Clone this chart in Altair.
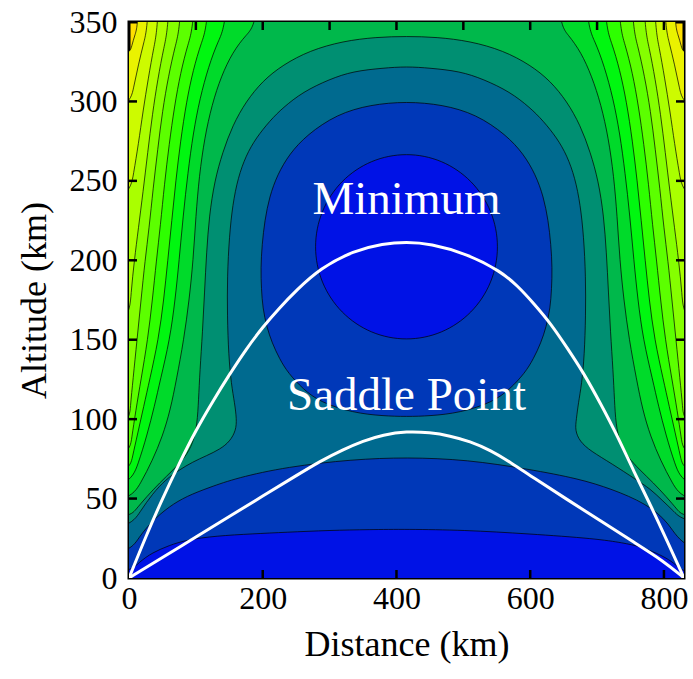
import altair as alt
import pandas as pd

X_MAX = 830
Y_MAX = 350
W, H = 555, 556

# Fill colour of each band, lowest band (B1) first
BAND_COLORS = [
    "#0012e6", "#0038b8", "#006a8f", "#008f72", "#00b84b", "#00da2a", "#00f710",
    "#2eff00", "#5cff00", "#85ff00", "#aaff00", "#cdfb00", "#eaf200", "#ffdf00",
]

# Contour lines, in km.  Side branches run from the top down to the plot edge.
L13_LEFT = [(15, 350), (9, 342), (4, 335), (0, 328)]
L13_RIGHT = [(815, 350), (821, 342), (826, 335), (830, 328)]
L12_LEFT = [(30, 350), (22, 337), (14, 323), (7, 309), (0, 295)]
L12_RIGHT = [(800, 350), (808, 337), (816, 323), (823, 309), (830, 295)]
L11_LEFT = [(45, 350), (37, 334), (29, 315), (21, 294), (14, 273), (7, 255), (0, 238)]
L11_RIGHT = [(785, 350), (793, 334), (801, 315), (809, 294), (816, 273), (823, 255), (830, 238)]
L10_LEFT = [(61, 350), (52, 334), (43, 314), (35, 292), (28, 268), (21, 243), (14, 220),
            (8, 200), (3, 180), (0, 158)]
L10_RIGHT = [(769, 350), (778, 334), (787, 314), (795, 292), (802, 268), (809, 243), (816, 220),
             (822, 200), (827, 180), (830, 158)]
L9_LEFT = [(79, 350), (69, 335), (59, 316), (50, 294), (43, 270), (36, 245), (30, 220),
           (24, 200), (18, 175), (12, 150), (6, 125), (2, 108), (0, 95)]
L9_RIGHT = [(751, 350), (761, 335), (771, 316), (780, 294), (787, 270), (794, 245), (800, 220),
            (806, 200), (812, 175), (818, 150), (824, 125), (828, 108), (830, 95)]
L8_LEFT = [(99, 350), (88, 336), (77, 318), (68, 297), (60, 273), (53, 248), (47, 222),
           (41, 200), (35, 175), (28, 150), (18, 125), (10, 105), (4, 88), (0, 76)]
L8_RIGHT = [(731, 350), (742, 336), (753, 318), (762, 297), (770, 273), (777, 248), (783, 222),
            (789, 200), (795, 175), (802, 150), (812, 125), (820, 105), (826, 88), (830, 76)]
L7_LEFT = [(120, 350), (108, 337), (96, 320), (86, 300), (77, 275), (70, 250), (64, 225),
           (58, 200), (52, 175), (44, 150), (31, 125), (22, 108), (13, 91), (5, 76), (0, 66)]
L7_RIGHT = [(710, 350), (722, 337), (734, 320), (744, 300), (753, 275), (760, 250), (766, 225),
            (772, 200), (778, 175), (786, 150), (799, 125), (808, 108), (817, 91), (825, 76), (830, 66)]
L6_LEFT = [(148, 350), (133, 338), (119, 322), (106, 302), (96, 280), (88, 255), (81, 228),
           (75, 200), (69, 175), (61, 150), (47, 125), (38, 108), (27, 90), (14, 72), (0, 57)]
L6_RIGHT = [(682, 350), (697, 338), (711, 322), (724, 302), (734, 280), (742, 255), (749, 228),
            (755, 200), (761, 175), (769, 150), (783, 125), (792, 108), (803, 90), (816, 72), (830, 57)]
L5_LEFT = [(195, 350), (175, 342), (155, 331), (138, 316), (124, 298), (113, 277), (105, 253),
           (100, 228), (96, 200), (90, 175), (82, 150), (71, 125), (62, 106), (50, 89), (35, 74),
           (18, 60), (0, 48)]
L5_RIGHT = [(640, 350), (657, 342), (676, 331), (692, 316), (706, 298), (717, 277), (725, 253),
            (730, 228), (734, 200), (740, 175), (748, 150), (759, 125), (768, 106), (780, 89),
            (795, 74), (812, 60), (830, 48)]
# These two arch over the top centre: left branch starts at the centre line
L4_LEFT = [(415, 341), (370, 340.5), (320, 338), (270, 332), (230, 323), (200, 313), (175, 300),
           (155, 285), (140, 268), (128, 250), (120, 228), (116, 205), (113, 180), (110, 155),
           (106, 130), (104, 112), (102, 97), (96, 85), (84, 76), (66, 68), (46, 60), (26, 51),
           (10, 43), (0, 38)]
L4_RIGHT = [(460, 340.5), (510, 338), (560, 332), (600, 323), (630, 313), (655, 300), (675, 285),
            (690, 268), (702, 250), (710, 228), (714, 205), (717, 180), (720, 155), (724, 130),
            (726, 112), (728, 97), (734, 85), (746, 76), (764, 68), (784, 60), (804, 51),
            (820, 43), (830, 38)]
L3_LEFT = [(415, 322), (380, 321), (335, 319), (300, 314), (260, 306), (230, 296), (211, 288),
           (190, 277), (175, 266), (163, 252), (155, 235), (150, 215), (147, 190), (147, 165),
           (149, 140), (153, 122), (158, 110), (161, 100), (160, 93), (151, 86), (136, 81),
           (116, 77), (95, 73), (75, 68), (55, 62), (35, 53), (17, 42), (0, 31)]
L3_RIGHT = [(450, 321), (495, 319), (530, 314), (570, 306), (600, 296), (619, 288), (640, 277),
            (655, 266), (667, 252), (675, 235), (680, 215), (683, 190), (683, 165), (681, 140),
            (677, 122), (672, 110), (669, 100), (667, 93), (674, 86), (690, 80), (722, 72),
            (758, 62), (780, 56), (797, 49), (815, 42), (830, 35)]
# Ground-level contours, left edge to right edge
L2_FLOOR = [(0, 15), (15, 26), (35, 36), (60, 45), (86, 51.5), (120, 57), (161, 63), (236, 70),
            (335, 74.7), (415, 76), (506, 74.5), (598, 68.5), (673, 62.5), (722, 56), (773, 47),
            (808, 35), (830, 17)]
L1_FLOOR = [(0, 3), (15, 10), (35, 16), (60, 20.5), (86, 24), (130, 26.5), (185, 27.8),
            (235, 28.8), (300, 30), (360, 30.5), (415, 30.7), (500, 30.2), (598, 27.8),
            (698, 24.8), (740, 22), (763, 20), (790, 15.5), (808, 11.5), (820, 7.5), (830, 3)]
# Closed loops around the minimum
L2_LOOP = [(415, 300), (361, 298), (311, 292), (266, 279), (240, 267), (222, 254), (210, 240),
           (203, 225), (199, 210), (197, 195), (198, 182), (200, 170), (206, 158), (214, 148),
           (225, 138), (238, 129), (260, 119), (286, 110.6), (335, 104), (380, 102),
           (415, 101.6), (450, 102), (495, 104), (544, 110.6), (570, 119), (592, 129),
           (605, 138), (616, 148), (624, 158), (630, 170), (632, 182), (633, 195), (631, 210),
           (627, 225), (620, 240), (608, 254), (590, 267), (564, 279), (519, 292), (469, 298)]
L1_LOOP = [(554.5, 208.5), (543.9, 231.3), (513.6, 250.6), (468.4, 263.5), (415, 268),
           (361.6, 263.5), (316.4, 250.6), (286.1, 231.3), (275.5, 208.5), (286.1, 185.7),
           (316.4, 166.4), (361.6, 153.5), (415, 149), (468.4, 153.5), (513.6, 166.4),
           (543.9, 185.7)]

# Trajectories
UPPER_PATH = [(0, 0), (25, 26), (50, 50), (75, 72), (100, 93), (125, 111), (150, 128),
              (175, 144), (200, 158), (225, 170), (250, 181), (286, 195), (336, 206),
              (380, 210.5), (415, 211.5), (450, 210.5), (506, 204), (556, 193), (581, 184),
              (605, 173), (631, 160), (655, 145), (680, 129), (705, 110), (731, 89), (755, 67),
              (781, 45), (805, 23), (830, 0)]
LOWER_PATH = [(0, 0), (50, 12.9), (100, 25.8), (150, 38.7), (200, 51.6), (250, 64.4),
              (286, 73.6), (320, 80.8), (350, 86.3), (380, 90.2), (415, 92.3), (450, 91.6),
              (480, 89.5), (510, 86), (540, 80.5), (570, 73), (605, 63), (655, 49.5),
              (705, 36), (755, 22.5), (800, 10.5), (830, 0)]

LABELS = ["Minimum", "Saddle Point"]
LABEL_X = [415, 415]
LABEL_Y = [229, 105.6]

X_LABELS = [0, 200, 400, 600, 800]
Y_LABELS = [0, 50, 100, 150, 200, 250, 300, 350]
TOP_TICKS = [100, 200, 300, 400, 500, 600, 700, 800]
BOTTOM_TICKS = [200, 400, 600, 800]
SIDE_TICKS = [50, 100, 150, 200, 250, 300]

OUT = 80  # extent beyond the frame used to close the filled regions


def corner_region(left, right):
    """Region below a pair of contour branches that end on the top and side edges."""
    pts = list(left)
    pts += [(-OUT, left[-1][1]), (-OUT, -OUT), (X_MAX + OUT, -OUT), (X_MAX + OUT, right[-1][1])]
    pts += list(reversed(right))
    pts += [(right[0][0], Y_MAX + OUT), (left[0][0], Y_MAX + OUT)]
    return pts


def arch_region(left, right):
    pts = list(reversed(left)) + list(right)
    pts += [(X_MAX + OUT, right[-1][1]), (X_MAX + OUT, -OUT), (-OUT, -OUT), (-OUT, left[-1][1])]
    return pts


def floor_region(line):
    return list(line) + [(X_MAX + OUT, line[-1][1]), (X_MAX + OUT, -OUT), (-OUT, -OUT),
                         (-OUT, line[0][1])]


regions = [
    (corner_region(L13_LEFT, L13_RIGHT), 13),
    (corner_region(L12_LEFT, L12_RIGHT), 12),
    (corner_region(L11_LEFT, L11_RIGHT), 11),
    (corner_region(L10_LEFT, L10_RIGHT), 10),
    (corner_region(L9_LEFT, L9_RIGHT), 9),
    (corner_region(L8_LEFT, L8_RIGHT), 8),
    (corner_region(L7_LEFT, L7_RIGHT), 7),
    (corner_region(L6_LEFT, L6_RIGHT), 6),
    (corner_region(L5_LEFT, L5_RIGHT), 5),
    (arch_region(L4_LEFT, L4_RIGHT), 4),
    (arch_region(L3_LEFT, L3_RIGHT), 3),
    (floor_region(L2_FLOOR), 2),
    (L2_LOOP, 2),
    (floor_region(L1_FLOOR), 1),
    (L1_LOOP, 1),
]

rows = []
ids, fills = [], []
for n, (pts, band) in enumerate(regions):
    pid = f"r{n:02d}"
    ids.append(pid)
    fills.append(BAND_COLORS[band - 1])
    for i, (x, y) in enumerate(pts):
        rows.append({"poly": pid, "i": i, "x": x, "y": y})
contour_df = pd.DataFrame(rows)

path_rows = []
for name, pts in (("upper", UPPER_PATH), ("lower", LOWER_PATH)):
    for i, (x, y) in enumerate(pts):
        path_rows.append({"path": name, "i": i, "x": x, "y": y})
path_df = pd.DataFrame(path_rows)

label_df = pd.DataFrame({"text": LABELS, "x": LABEL_X, "y": LABEL_Y})

X_AXIS = alt.Axis(values=X_LABELS, title="Distance (km)", format="d", domain=False, ticks=False,
                  grid=False, labelFlush=False, labelPadding=5, titlePadding=13)
Y_AXIS = alt.Axis(values=Y_LABELS, title="Altitude (km)", format="d", domain=False, ticks=False,
                  grid=False, labelFlush=False, labelPadding=12, titlePadding=16)


def xe(field="x"):
    return alt.X(f"{field}:Q", scale=alt.Scale(domain=[0, X_MAX], nice=False, zero=False),
                 axis=X_AXIS)


def ye(field="y"):
    return alt.Y(f"{field}:Q", scale=alt.Scale(domain=[0, Y_MAX], nice=False, zero=False),
                 axis=Y_AXIS)


contours = alt.Chart(contour_df).mark_line(
    interpolate="basis-closed", clip=True, stroke="black", strokeWidth=0.7
).encode(
    x=xe(), y=ye(), order=alt.Order("i:Q"), detail="poly:N",
    fill=alt.Fill("poly:N", scale=alt.Scale(domain=ids, range=fills), legend=None),
)

paths = alt.Chart(path_df).mark_line(
    interpolate="basis", clip=True, color="white", strokeWidth=3
).encode(x=xe(), y=ye(), order=alt.Order("i:Q"), detail="path:N")

labels = alt.Chart(label_df).mark_text(
    font="Liberation Serif", fontSize=47, color="white", align="center", baseline="alphabetic"
).encode(x=xe(), y=ye(), text="text:N")

TICK = 8
left_ticks = alt.Chart(pd.DataFrame({"y": SIDE_TICKS})).mark_rule(
    color="black", strokeWidth=2.5).encode(y=ye(), x=alt.value(0), x2=alt.value(TICK))
right_ticks = alt.Chart(pd.DataFrame({"y": SIDE_TICKS})).mark_rule(
    color="black", strokeWidth=2.5).encode(y=ye(), x=alt.value(W - TICK), x2=alt.value(W))
top_ticks = alt.Chart(pd.DataFrame({"x": TOP_TICKS})).mark_rule(
    color="black", strokeWidth=2.5).encode(x=xe(), y=alt.value(0), y2=alt.value(TICK))
bottom_ticks = alt.Chart(pd.DataFrame({"x": BOTTOM_TICKS})).mark_rule(
    color="black", strokeWidth=2.5).encode(x=xe(), y=alt.value(H - TICK), y2=alt.value(H))

chart = alt.layer(
    contours, paths, labels, left_ticks, right_ticks, top_ticks, bottom_ticks
).properties(
    width=W, height=H,
    autosize=alt.AutoSizeParams(type="none"),
    padding={"left": 129, "top": 22, "right": 9, "bottom": 101},
).configure_view(
    stroke="black", strokeWidth=3, fill=BAND_COLORS[13]
).configure_axis(
    labelFont="Liberation Serif", labelFontSize=32, labelColor="black",
    titleFont="Liberation Serif", titleFontSize=36, titleFontWeight="normal", titleColor="black",
)

chart.save("out.html", embed_options={"renderer": "svg", "actions": False})
